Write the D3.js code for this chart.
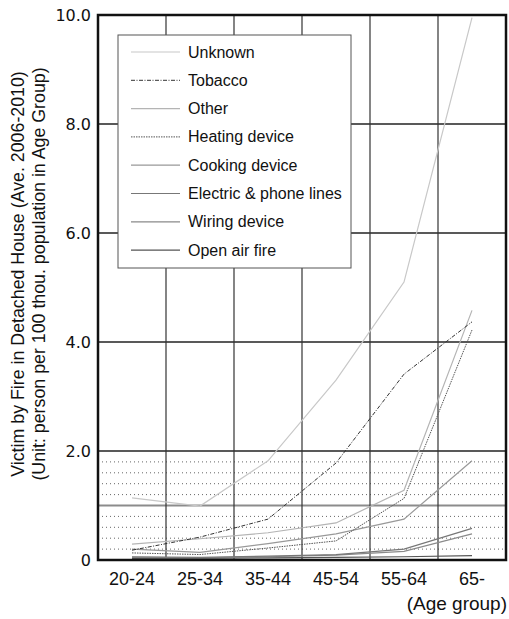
<!DOCTYPE html>
<html>
<head>
<meta charset="utf-8">
<script src="https://cdn.jsdelivr.net/npm/d3@7"></script>
<style>
  body { margin: 0; background: #fff; }
  svg { display: block; }
</style>
</head>
<body>
<svg id="chart"></svg>
<script>
const ageGroups = ['20-24', '25-34', '35-44', '45-54', '55-64', '65-'];
const yTicks = [0, 2, 4, 6, 8, 10];
const seriesNames = ['Unknown', 'Tobacco', 'Other', 'Heating device', 'Cooking device',
  'Electric & phone lines', 'Wiring device', 'Open air fire'];

const unknown = [1.14, 0.99, 1.82, 3.3, 5.1, 9.95];
const tobacco = [0.18, 0.42, 0.75, 1.78, 3.41, 4.37];
const other = [0.29, 0.39, 0.5, 0.68, 1.28, 4.58];
const heating = [0.13, 0.1, 0.22, 0.35, 1.13, 4.22];
const cooking = [0.2, 0.14, 0.3, 0.48, 0.75, 1.82];
const electric = [0.06, 0.05, 0.07, 0.1, 0.2, 0.58];
const wiring = [0.05, 0.04, 0.06, 0.09, 0.16, 0.48];
const openAir = [0.03, 0.03, 0.04, 0.05, 0.06, 0.08];

const seriesValues = [unknown, tobacco, other, heating, cooking, electric, wiring, openAir];
const lineStyles = [
  { color: '#c8c8c8', dash: null, w: 1.2 },
  { color: '#333', dash: '4,1.5,1,1.5', w: 1 },
  { color: '#b4b4b4', dash: null, w: 1.2 },
  { color: '#555', dash: '1.5,1', w: 1 },
  { color: '#999', dash: null, w: 1.2 },
  { color: '#777', dash: null, w: 1.2 },
  { color: '#8a8a8a', dash: null, w: 1.2 },
  { color: '#555', dash: null, w: 1.2 }
];

const W = 509, H = 619;
const margin = { top: 15, right: 3, bottom: 59, left: 98 };

const svg = d3.select('#chart').attr('width', W).attr('height', H);

const x = d3.scaleBand().domain(ageGroups).range([margin.left, W - margin.right]);
const y = d3.scaleLinear().domain([0, 10]).range([H - margin.bottom, margin.top]);
const cx = d => x(d) + x.bandwidth() / 2;

const grid = svg.append('g');

// dotted minor lines below 2.0
const minor = d3.range(1, 10).map(i => i * 0.2).filter(v => Math.abs(v - 1) > 1e-6);
grid.selectAll('line.minor')
  .data(minor)
  .join('line')
  .attr('x1', margin.left).attr('x2', W - margin.right)
  .attr('y1', d => y(d)).attr('y2', d => y(d))
  .attr('stroke', '#666').attr('stroke-width', 1)
  .attr('stroke-dasharray', '1,3');

// 1.0 line
grid.append('line')
  .attr('x1', margin.left).attr('x2', W - margin.right)
  .attr('y1', y(1)).attr('y2', y(1))
  .attr('stroke', '#8c8c8c').attr('stroke-width', 2);

// major lines
grid.selectAll('line.major')
  .data([2, 4, 6, 8])
  .join('line')
  .attr('x1', margin.left).attr('x2', W - margin.right)
  .attr('y1', d => y(d)).attr('y2', d => y(d))
  .attr('stroke', '#222').attr('stroke-width', 1.3);

// vertical lines at band boundaries
grid.selectAll('line.v')
  .data(ageGroups.slice(1))
  .join('line')
  .attr('x1', d => x(d)).attr('x2', d => x(d))
  .attr('y1', margin.top).attr('y2', H - margin.bottom)
  .attr('stroke', '#333').attr('stroke-width', 1.2);

// series lines
const line = d3.line().x((d, i) => cx(ageGroups[i])).y(d => y(d));
svg.append('g')
  .selectAll('path')
  .data(seriesValues.map((v, i) => ({ v, s: lineStyles[i] })).reverse())
  .join('path')
  .attr('d', d => line(d.v))
  .attr('fill', 'none')
  .attr('stroke', d => d.s.color)
  .attr('stroke-width', d => d.s.w)
  .attr('stroke-dasharray', d => d.s.dash);

// frame
svg.append('rect')
  .attr('x', margin.left).attr('y', margin.top)
  .attr('width', W - margin.left - margin.right)
  .attr('height', H - margin.top - margin.bottom)
  .attr('fill', 'none').attr('stroke', '#111').attr('stroke-width', 2.5);

// y axis labels
const yAxis = svg.append('g')
  .attr('transform', `translate(${margin.left},0)`)
  .call(d3.axisLeft(y).tickValues(yTicks).tickSize(0).tickPadding(7)
    .tickFormat(d => d === 0 ? '0' : d3.format('.1f')(d)));
yAxis.select('.domain').remove();
yAxis.selectAll('text')
  .attr('font-family', '"DejaVu Sans", sans-serif')
  .attr('font-size', 16)
  .attr('fill', '#111');

// x axis labels
const xAxis = svg.append('g')
  .attr('transform', `translate(0,${H - margin.bottom})`)
  .call(d3.axisBottom(x).tickSize(0).tickPadding(12));
xAxis.select('.domain').remove();
xAxis.selectAll('text')
  .attr('font-family', '"Liberation Sans", Arial, sans-serif')
  .attr('font-size', 18)
  .attr('fill', '#111');

svg.append('text')
  .attr('x', W - 2).attr('y', 610)
  .attr('text-anchor', 'end')
  .attr('font-family', '"Liberation Sans", Arial, sans-serif')
  .attr('font-size', 19)
  .attr('fill', '#111')
  .text('(Age group)');

// y axis title
const yTitle = svg.append('text')
  .attr('transform', 'translate(24,274) rotate(-90)')
  .attr('text-anchor', 'middle')
  .attr('font-family', '"Liberation Sans", Arial, sans-serif')
  .attr('font-size', 17.8)
  .attr('fill', '#111');
yTitle.append('tspan').attr('x', 0).attr('dy', 0).text('Victim by Fire in Detached House (Ave. 2006-2010)');
yTitle.append('tspan').attr('x', 0).attr('dy', 21).text('(Unit: person per 100 thou. population in Age Group)');

// legend
const legend = svg.append('g').attr('transform', 'translate(118,35)');
legend.append('rect')
  .attr('width', 233).attr('height', 233)
  .attr('fill', '#fff').attr('stroke', '#555').attr('stroke-width', 1);

seriesNames.forEach((name, i) => {
  const s = lineStyles[i];
  const ly = 17 + i * 28.3;
  legend.append('line')
    .attr('x1', 13).attr('x2', 62)
    .attr('y1', ly).attr('y2', ly)
    .attr('stroke', s.color).attr('stroke-width', s.w)
    .attr('stroke-dasharray', s.dash);
  legend.append('text')
    .attr('x', 70).attr('y', ly + 5.5)
    .attr('font-family', '"Liberation Sans", Arial, sans-serif')
    .attr('font-size', 16)
    .attr('fill', '#111')
    .text(name);
});
</script>
</body>
</html>
